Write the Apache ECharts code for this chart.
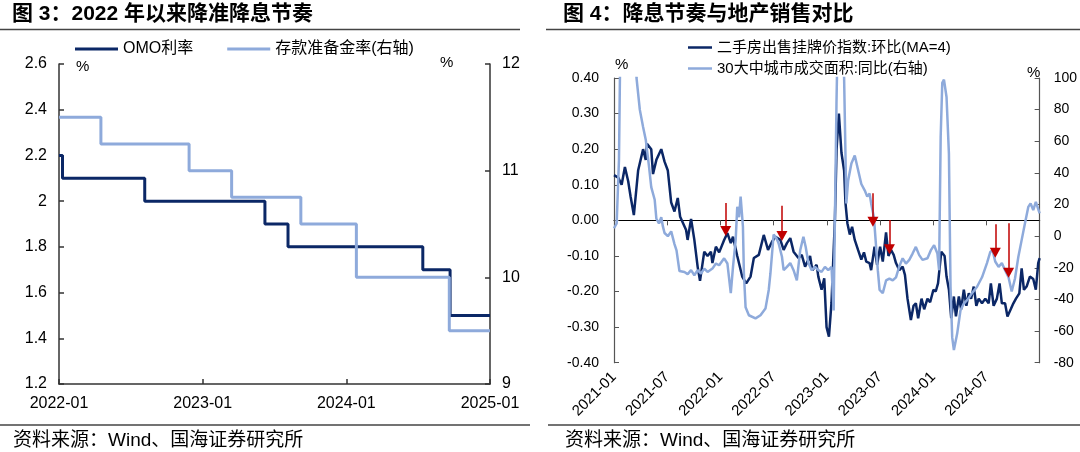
<!DOCTYPE html>
<html><head><meta charset="utf-8">
<script src="https://cdn.jsdelivr.net/npm/echarts@6/dist/echarts.min.js"></script>
<style>html,body{margin:0;padding:0;background:#fff}#c{width:1080px;height:452px}</style>
</head><body><div id="c"></div>
<script>
// ===== 图3 data =====
const omoDates = ['2022-01-01','2022-01-10','2022-08-06','2023-06-07','2023-08-05','2024-07-13','2024-09-21','2025-01-01'];
const omoRates = [2.2, 2.1, 2.0, 1.9, 1.8, 1.7, 1.5, 1.5];
const rrrDates = ['2022-01-01','2022-04-16','2022-11-27','2023-03-14','2023-09-07','2024-01-27','2024-09-19','2025-01-01'];
const rrrRates = [11.5, 11.25, 11.0, 10.75, 10.5, 10.0, 9.5, 9.5];
const fig3XLabels = ['2022-01','2023-01','2024-01','2025-01'];

// ===== 图4 data (x = months since 2021-01) =====
const priceMonths = [0,0.48,0.86,1.23,1.6,1.87,2.24,2.72,3.28,3.58,3.72,4.2,4.4,4.78,5.33,5.7,6.07,6.45,6.82,7.19,7.46,8.13,8.3,8.69,9.06,9.43,9.7,10.18,10.55,10.93,11.1,11.49,11.86,12.42,12.79,13.17,13.42,13.9,14.46,14.91,15.4,15.77,16.33,16.89,17.37,17.82,18.2,18.76,19.13,19.5,19.88,20.25,20.8,21.17,21.55,22.11,22.37,22.85,23.04,23.41,23.71,23.97,24.24,24.53,24.91,25.1,25.36,25.65,25.95,26.1,26.32,26.59,26.85,27.15,27.52,27.89,28.19,28.45,28.82,29.0,29.38,29.67,30.01,30.31,30.68,30.95,31.24,31.54,31.8,32.18,32.55,32.81,33.1,33.48,33.78,34.04,34.3,34.68,34.98,35.35,35.65,36.02,36.28,36.54,36.91,37.28,37.5,37.77,38.03,38.33,38.56,38.89,39.15,39.45,39.74,40.01,40.27,40.57,40.86,41.13,41.5,41.87,42.25,42.5,42.81,43.18,43.48,43.74,44.1,44.37,44.74,45.04,45.33,45.71,45.97,46.23,46.53,46.9,47.28,47.57,47.84,48.0];
const priceMoM = [0.127,0.12,0.10,0.15,0.11,0.067,0.015,0.14,0.20,0.17,0.215,0.20,0.13,0.17,0.20,0.165,0.14,0.05,0.025,0.063,0.01,-0.027,-0.055,0.004,-0.055,-0.13,-0.17,-0.088,-0.10,-0.088,-0.12,-0.074,-0.09,-0.055,-0.036,-0.064,-0.046,-0.10,-0.158,-0.177,-0.158,-0.106,-0.097,-0.041,-0.083,-0.06,-0.046,-0.055,-0.083,-0.064,-0.05,-0.088,-0.106,-0.097,-0.13,-0.10,-0.14,-0.125,-0.158,-0.195,-0.163,-0.30,-0.327,-0.23,0.0,0.20,0.30,0.19,0.14,0.05,-0.008,-0.04,-0.018,-0.055,-0.083,-0.11,-0.09,-0.116,-0.12,-0.14,-0.074,-0.125,-0.074,-0.116,-0.034,-0.10,-0.083,-0.097,-0.12,-0.14,-0.13,-0.153,-0.22,-0.28,-0.24,-0.233,-0.275,-0.22,-0.25,-0.22,-0.23,-0.195,-0.20,-0.177,-0.088,-0.10,-0.158,-0.195,-0.275,-0.214,-0.27,-0.214,-0.25,-0.195,-0.24,-0.205,-0.22,-0.186,-0.24,-0.22,-0.233,-0.22,-0.233,-0.177,-0.24,-0.22,-0.177,-0.233,-0.233,-0.27,-0.25,-0.233,-0.22,-0.205,-0.135,-0.195,-0.186,-0.158,-0.165,-0.195,-0.12,-0.106];
const areaMonths = [0,0.3,0.56,0.7,1.0,1.8,2.3,2.54,2.91,3.28,3.58,3.95,4.2,4.59,4.78,5.07,5.33,5.52,5.7,6.07,6.45,6.82,7.05,7.38,7.94,8.31,8.69,9.06,9.43,9.81,10.18,10.55,11.1,11.49,11.86,12.42,12.79,13.17,13.42,13.72,13.9,14.1,14.28,14.54,14.65,14.84,15.21,15.96,16.52,17.08,17.45,17.64,18.0,18.34,18.57,18.94,19.13,19.5,19.88,20.25,20.62,21.0,21.36,21.62,21.92,22.29,22.67,23.04,23.41,23.79,24.16,24.53,24.77,25.09,25.3,25.7,25.95,26.2,26.4,26.77,27.15,27.52,27.89,28.27,28.56,28.82,29.0,29.31,29.56,29.75,29.95,30.31,30.68,31.06,31.43,31.8,32.18,32.55,32.92,33.3,33.67,34.04,34.42,34.79,35.35,35.72,36.1,36.47,36.66,36.84,37.02,37.21,37.5,37.77,37.95,38.14,38.33,38.7,39.07,39.45,39.82,40.38,40.94,41.5,42.06,42.43,42.69,42.99,43.37,43.74,44.1,44.49,44.85,45.22,45.6,45.97,46.34,46.72,46.98,47.28,47.57,48.0];
const areaYoY = [5,8,48,115,160,170,120,100,80,69,61,44,31,23,11,8,12,6,2,0,3,-5,-9,-22,-22.6,-24,-21.5,-24.7,-21.5,-23.6,-20.5,-22.6,-20.5,-17.3,-18.4,-14,-17.3,-36,-19.4,-2.5,18.6,12,25,6,-23.6,-45,-50,-52,-50,-45.8,-34,-23.6,1,-1.5,-4.6,-13,-21.5,-19.4,-17,-21.5,-28,-8.9,-0.4,-6.8,-17,-21.5,-19.4,-21.5,-22.6,-19.4,-21.5,-19.4,-47,84,150,140,100,20.7,35,46,51,42,33,29,25,27,20.7,12,-6.8,-21.5,-34,-36,-28,-26.8,-28,-26,-19,-14,-17.3,-15,-11,-6.8,-12,-15,-14,-9,-5.7,-11,-21.5,63,97,99,88,52,-32,-64,-72,-61.6,-47,-42.6,-40.5,-36,-32,-26,-17,-10,-8.9,-16,-19.4,-17,-21.5,-26,-35,-26.8,-13,-2.5,8,18.5,20.7,16.5,21.7,14.4];
const fig4XLabels = ['2021-01','2021-07','2022-01','2022-07','2023-01','2023-07','2024-01','2024-07'];
// rate-cut arrows: [month, start value, head value] on left axis
const cutArrows = [[12.6,0.049,-0.030],[18.94,0.041,-0.044],[29.2,0.076,-0.004],[31.06,0.001,-0.081],[43.0,-0.011,-0.091],[44.5,-0.008,-0.147]];

const FONT = "'Liberation Sans', Arial, 'Noto Sans CJK SC', sans-serif";
const DARK = '#0b2766', LIGHT = '#8eaadb', AXIS = '#333', RED = '#c00000';

function monthsFrom(dateStr, baseYear) {
  const [y, m, d] = dateStr.split('-').map(Number);
  const dim = new Date(y, m, 0).getDate();
  return (y - baseYear) * 12 + (m - 1) + (d - 1) / dim;
}
const zip = (xs, ys) => xs.map((x, i) => [x, ys[i]]);

const axisLineStyle = {color: AXIS, width: 1.5};
const chart = echarts.init(document.getElementById('c'));
chart.setOption({
  animation: false,
  textStyle: {fontFamily: FONT},
  grid: [
    {left: 59, top: 64, width: 431, height: 320},
    {left: 614, top: 78, width: 429, height: 284.7}
  ],
  xAxis: [
    {gridIndex: 0, type: 'value', min: 0, max: 36, interval: 12,
      axisLine: {onZero: false, lineStyle: axisLineStyle},
      axisTick: {inside: true, length: 5, lineStyle: axisLineStyle},
      splitLine: {show: false},
      axisLabel: {fontSize: 16, color: '#000', margin: 12, formatter: v => fig3XLabels[Math.round(v / 12)] || ''}},
    {gridIndex: 1, type: 'value', min: 0, max: 48, interval: 6,
      axisLine: {show: false, onZero: false}, axisTick: {show: false}, splitLine: {show: false},
      axisLabel: {fontSize: 15, color: '#000', rotate: 45, margin: 12, formatter: v => fig4XLabels[Math.round(v / 6)] || ''}},
    {gridIndex: 1, type: 'value', min: 0, max: 48, interval: 6,
      axisLine: {onZero: true, onZeroAxisIndex: 2, lineStyle: {color: '#000', width: 1.2}},
      axisTick: {inside: true, length: 5, lineStyle: {color: '#555', width: 1}},
      axisLabel: {show: false}, splitLine: {show: false}}
  ],
  yAxis: [
    {gridIndex: 0, type: 'value', position: 'left', min: 1.2, max: 2.6, interval: 0.2,
      axisLine: {show: true, onZero: false, lineStyle: axisLineStyle},
      axisTick: {show: true, inside: true, length: 5, lineStyle: axisLineStyle},
      splitLine: {show: false}, axisLabel: {fontSize: 16, color: '#000', margin: 12}},
    {gridIndex: 0, type: 'value', position: 'right', min: 9, max: 12, interval: 1,
      axisLine: {show: true, onZero: false, lineStyle: axisLineStyle},
      axisTick: {show: true, inside: true, length: 5, lineStyle: axisLineStyle},
      splitLine: {show: false}, axisLabel: {fontSize: 16, color: '#000', margin: 12}},
    {gridIndex: 1, type: 'value', position: 'left', min: -0.4, max: 0.4, interval: 0.1,
      axisLine: {show: true, onZero: false, lineStyle: {color: '#555', width: 1.2}},
      axisTick: {show: true, inside: true, length: 5, lineStyle: {color: '#555', width: 1}},
      splitLine: {show: false},
      axisLabel: {fontSize: 14, color: '#000', margin: 15, formatter: v => (Math.abs(v) < 1e-9 ? 0 : v).toFixed(2)}},
    {gridIndex: 1, type: 'value', position: 'right', min: -80, max: 100, interval: 20,
      axisLine: {show: true, onZero: false, lineStyle: {color: '#555', width: 1.2}},
      axisTick: {show: true, inside: true, length: 5, lineStyle: {color: '#555', width: 1}},
      splitLine: {show: false}, axisLabel: {fontSize: 14, color: '#000', margin: 14}}
  ],
  legend: [
    {data: ['OMO利率', '存款准备金率(右轴)'], left: 70, top: 36, icon: 'rect', itemWidth: 43, itemHeight: 3,
      itemGap: 34, selectedMode: false, textStyle: {fontSize: 16, color: '#000'}},
    {data: ['二手房出售挂牌价指数:环比(MA=4)', '30大中城市成交面积:同比(右轴)'], left: 683, top: 35, orient: 'vertical',
      icon: 'rect', itemWidth: 24, itemHeight: 2.5, itemGap: 6, selectedMode: false, textStyle: {fontSize: 15, color: '#000'}}
  ],
  series: [
    {name: 'OMO利率', type: 'line', xAxisIndex: 0, yAxisIndex: 0, step: 'end', symbol: 'none', z: 2,
      data: zip(omoDates.map(d => monthsFrom(d, 2022)), omoRates),
      lineStyle: {color: DARK, width: 3}, itemStyle: {color: DARK}},
    {name: '存款准备金率(右轴)', type: 'line', xAxisIndex: 0, yAxisIndex: 1, step: 'end', symbol: 'none', z: 3,
      data: zip(rrrDates.map(d => monthsFrom(d, 2022)), rrrRates),
      lineStyle: {color: LIGHT, width: 3}, itemStyle: {color: LIGHT}},
    {name: '二手房出售挂牌价指数:环比(MA=4)', type: 'line', xAxisIndex: 1, yAxisIndex: 2, symbol: 'none', z: 2,
      data: zip(priceMonths, priceMoM),
      lineStyle: {color: DARK, width: 2.5}, itemStyle: {color: DARK},
      markLine: {silent: true, z: 10, symbol: ['none', 'triangle'], symbolSize: [11, 10],
        lineStyle: {color: RED, width: 1.5, type: 'solid'}, label: {show: false}, emphasis: {disabled: true},
        data: cutArrows.map(a => [{coord: [a[0], a[1]]}, {coord: [a[0], a[2]]}])}},
    {name: '30大中城市成交面积:同比(右轴)', type: 'line', xAxisIndex: 1, yAxisIndex: 3, symbol: 'none', z: 3,
      data: zip(areaMonths, areaYoY),
      lineStyle: {color: LIGHT, width: 2.5}, itemStyle: {color: LIGHT}}
  ],
  graphic: [
    {type: 'text', left: 12, top: 4, style: {text: '图 3：2022 年以来降准降息节奏', fontSize: 21, fontWeight: 'bold', fill: '#000', fontFamily: FONT}},
    {type: 'text', left: 563, top: 4, style: {text: '图 4：降息节奏与地产销售对比', fontSize: 21, fontWeight: 'bold', fill: '#000', fontFamily: FONT}},
    {type: 'line', shape: {x1: 0, y1: 29.5, x2: 520, y2: 29.5}, style: {stroke: '#444', lineWidth: 1.5}},
    {type: 'line', shape: {x1: 546, y1: 29.5, x2: 1080, y2: 29.5}, style: {stroke: '#444', lineWidth: 1.5}},
    {type: 'line', shape: {x1: 0, y1: 425, x2: 530, y2: 425}, style: {stroke: '#444', lineWidth: 1.5}},
    {type: 'line', shape: {x1: 548, y1: 425, x2: 1080, y2: 425}, style: {stroke: '#444', lineWidth: 1.5}},
    {type: 'text', x: 76, y: 67, style: {text: '%', fontSize: 15, fill: '#000', verticalAlign: 'middle', fontFamily: FONT}},
    {type: 'text', x: 440, y: 63, style: {text: '%', fontSize: 15, fill: '#000', verticalAlign: 'middle', fontFamily: FONT}},
    {type: 'text', x: 615, y: 65, style: {text: '%', fontSize: 15, fill: '#000', verticalAlign: 'middle', fontFamily: FONT}},
    {type: 'text', x: 1027, y: 73, style: {text: '%', fontSize: 15, fill: '#000', verticalAlign: 'middle', fontFamily: FONT}},
    {type: 'text', x: 13, y: 441, style: {text: '资料来源：Wind、国海证券研究所', fontSize: 19, fill: '#000', verticalAlign: 'middle', fontFamily: FONT}},
    {type: 'text', x: 565, y: 441, style: {text: '资料来源：Wind、国海证券研究所', fontSize: 19, fill: '#000', verticalAlign: 'middle', fontFamily: FONT}}
  ]
});
</script></body></html>
